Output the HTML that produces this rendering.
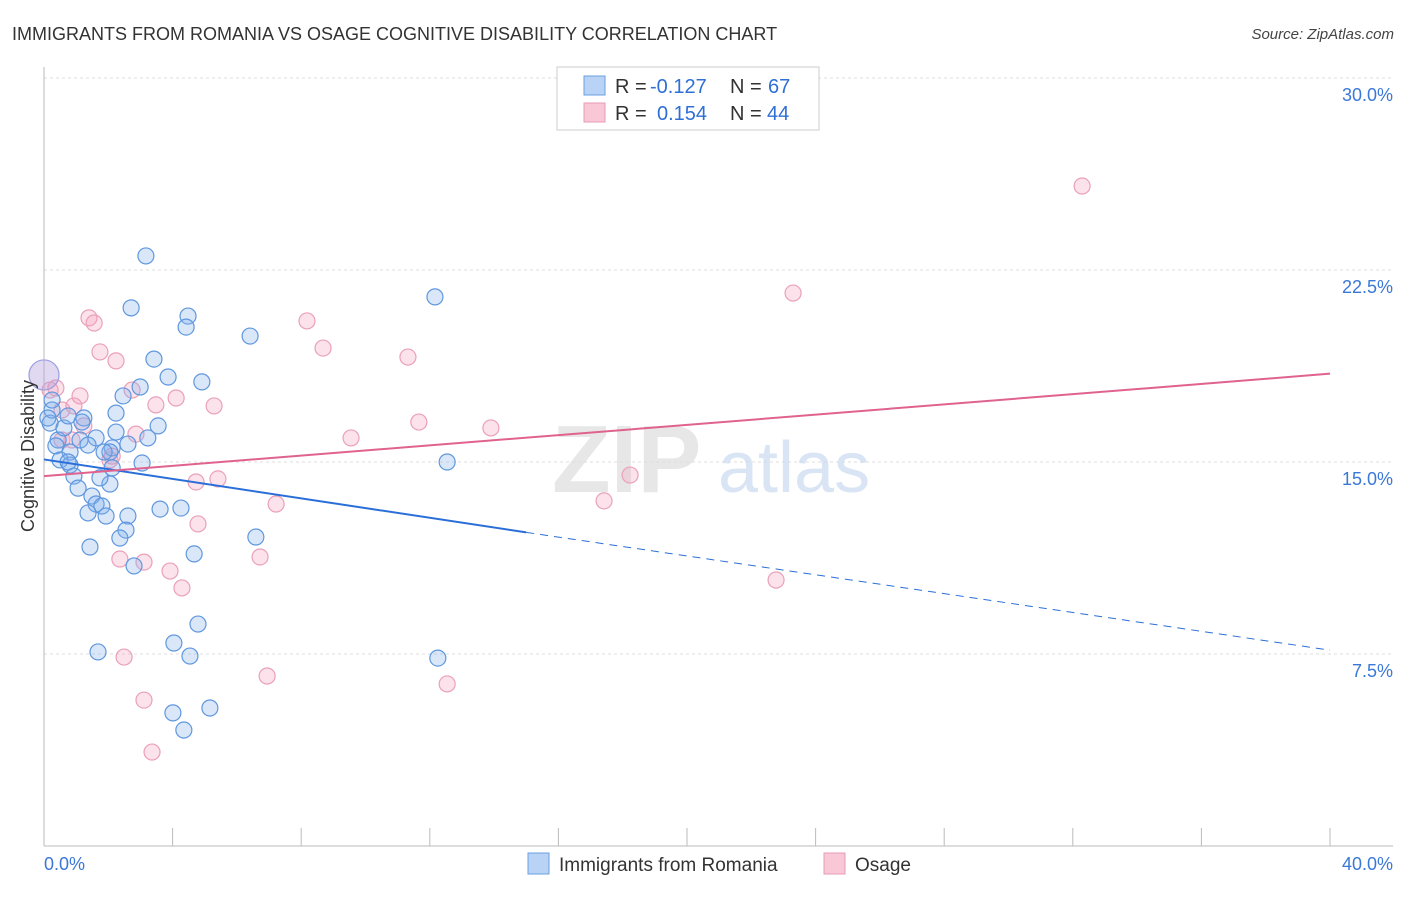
<!DOCTYPE html>
<html><head><meta charset="utf-8">
<style>
body{margin:0;background:#fff;font-family:"Liberation Sans",sans-serif;}
svg text{font-family:"Liberation Sans",sans-serif;}
</style></head>
<body>
<svg id="chart" width="1406" height="892" xmlns="http://www.w3.org/2000/svg">
<text x="12" y="40" font-size="18" fill="#333">IMMIGRANTS FROM ROMANIA VS OSAGE COGNITIVE DISABILITY CORRELATION CHART</text>
<text x="1394" y="39" font-size="15" fill="#444" text-anchor="end" font-style="italic">Source: ZipAtlas.com</text>
<g id="grid"></g>
<g>
<text x="552" y="492" font-size="96" fill="#ddd" font-family="Liberation Serif" font-weight="bold" opacity="0.7">ZIP</text>
<text x="718" y="492" font-size="72" fill="#c9daf0" opacity="0.7">atlas</text>
</g>
<g id="axes"></g>
<g id="points"></g>
<g id="trends"></g>
<g>
<rect x="557" y="67" width="262" height="63" fill="#fff" stroke="#ccc"/>
<rect x="584" y="76" width="21" height="19" fill="#b8d3f5" stroke="#6a9fe0"/>
<rect x="584" y="103" width="21" height="19" fill="#f9c8d7" stroke="#e89ab5"/>
<text x="615" y="93" font-size="20" fill="#333">R =</text>
<text x="650" y="93" font-size="20" fill="#2f6fd6">-0.127</text>
<text x="730" y="93" font-size="20" fill="#333">N =</text>
<text x="768" y="93" font-size="20" fill="#2f6fd6">67</text>
<text x="615" y="120" font-size="20" fill="#333">R =</text>
<text x="657" y="120" font-size="20" fill="#2f6fd6">0.154</text>
<text x="730" y="120" font-size="20" fill="#333">N =</text>
<text x="767" y="120" font-size="20" fill="#2f6fd6">44</text>
</g>
<g>
<rect x="528" y="853" width="21" height="21" fill="#b8d3f5" stroke="#6a9fe0"/>
<text x="559" y="871" font-size="19" fill="#333">Immigrants from Romania</text>
<rect x="824" y="853" width="21" height="21" fill="#f9c8d7" stroke="#e89ab5"/>
<text x="855" y="871" font-size="19" fill="#333">Osage</text>
</g>
<text transform="translate(34,456) rotate(-90)" font-size="18" fill="#333" text-anchor="middle">Cognitive Disability</text>
</svg>
<script>
const blueX=[3.17,2.71,4.48,4.42,6.41,12.16,3.42,3.86,4.91,2.99,2.46,2.24,1.24,3.55,3.23,2.61,2.12,2.24,1.62,1.12,1.37,0.44,0.37,0.81,0.50,0.81,0.75,0.93,1.06,1.49,1.62,1.80,1.37,1.93,2.05,1.74,3.05,2.61,2.55,2.36,3.61,4.26,1.43,4.67,6.59,2.80,12.54,4.79,4.04,1.68,4.54,12.25,5.16,4.01,4.35,0.19,0.25,0.12,0.25,0.62,2.05,2.12,1.87,1.18,0.75];
const blueY=[23.05,21.02,20.70,20.27,19.92,21.45,19.02,18.32,18.13,17.93,17.58,16.91,16.72,16.41,15.94,15.70,15.55,16.17,15.94,15.86,15.66,15.86,15.63,15.39,15.08,14.88,15.0,14.45,13.98,13.67,13.36,13.28,13.01,12.89,14.14,14.38,14.96,12.89,12.34,12.03,13.16,13.20,11.68,11.41,12.07,10.94,15.0,8.67,7.93,7.58,7.42,7.34,5.39,5.20,4.53,16.52,17.03,16.72,17.42,16.33,15.39,14.77,15.39,16.56,16.8];
const pinkX=[32.29,23.30,8.18,1.40,1.56,8.68,1.74,11.32,2.24,0.37,1.12,2.74,4.11,3.48,5.29,0.56,0.93,11.66,9.55,13.90,2.86,1.24,0.87,2.05,2.12,18.23,4.73,5.41,7.22,17.42,4.79,2.36,3.11,6.72,3.92,4.29,22.77,2.49,6.94,12.54,3.11,3.36,0.19,0.56];
const pinkY=[25.78,21.60,20.51,20.63,20.43,19.45,19.30,19.10,18.95,17.89,17.58,17.81,17.50,17.23,17.19,17.03,17.19,16.56,15.94,16.33,16.09,16.41,15.86,15.08,15.23,14.49,14.22,14.34,13.36,13.48,12.58,11.21,11.09,11.29,10.74,10.08,10.39,7.38,6.64,6.33,5.70,3.67,17.81,15.86];
const bigX=[0.0], bigY=[18.4];
const yTicks=[7.5,15.0,22.5,30.0];
const yTickLabels=["7.5%","15.0%","22.5%","30.0%"];
const xTicks=[0,4,8,12,16,20,24,28,32,36,40];
const blueTrend=[[0,15.1],[15,12.25],[40,7.65]];
const pinkTrend=[[0,14.45],[40,18.45]];
const NS="http://www.w3.org/2000/svg";
const sx=v=>44+v*32.15, sy=v=>846-v*25.6;
function mk(tag,attrs,parent){const e=document.createElementNS(NS,tag);for(const k in attrs)e.setAttribute(k,attrs[k]);parent.appendChild(e);return e;}
const gridG=document.getElementById('grid'),axesG=document.getElementById('axes'),ptsG=document.getElementById('points'),trG=document.getElementById('trends');
yTicks.forEach((t,i)=>{
 const l=mk('line',{x1:44,x2:1393,y1:sy(t),y2:sy(t),stroke:'#ddd','stroke-dasharray':'3,3'},gridG);
 
 
 const tx=mk('text',{x:1393,y:sy(t)+23,'font-size':18,fill:'#3a78d8','text-anchor':'end'},axesG);
 tx.textContent=yTickLabels[i];
 
 
});
const topGrid=mk('line',{x1:44,x2:1393,y1:78,y2:78,stroke:'#ddd','stroke-dasharray':'3,3'},gridG);


mk('line',{x1:44,x2:44,y1:67,y2:846,stroke:'#bbb'},axesG);
mk('line',{x1:44,x2:1393,y1:846,y2:846,stroke:'#bbb'},axesG);
xTicks.forEach(t=>{
 const l=mk('line',{x1:sx(t),x2:sx(t),y1:828,y2:846,stroke:'#bbb'},axesG);
 
 
});
const xl0=mk('text',{x:44,y:870,'font-size':18,fill:'#3a78d8'},axesG);xl0.textContent="0.0%";


const xl1=mk('text',{x:1393,y:870,'font-size':18,fill:'#3a78d8','text-anchor':'end'},axesG);xl1.textContent="40.0%";


pinkX.forEach((x,i)=>{
 const c=mk('circle',{cx:sx(x),cy:sy(pinkY[i]),r:8,fill:'rgba(244,160,190,0.3)',stroke:'#eaa0ba','stroke-width':1.2},ptsG);
 
 
});
blueX.forEach((x,i)=>{
 const c=mk('circle',{cx:sx(x),cy:sy(blueY[i]),r:8,fill:'rgba(130,175,235,0.3)',stroke:'#5f97de','stroke-width':1.2},ptsG);
 
 
});
bigX.forEach((x,i)=>{
 const c=mk('circle',{cx:sx(x),cy:sy(bigY[i]),r:15,fill:'rgba(180,160,220,0.4)',stroke:'#9a9fe0','stroke-width':1.2},ptsG);
 
 
});
const b1=mk('line',{x1:sx(blueTrend[0][0]),y1:sy(blueTrend[0][1]),x2:sx(blueTrend[1][0]),y2:sy(blueTrend[1][1]),stroke:'#2a6fd8','stroke-width':2},trG);


const b2=mk('line',{x1:sx(blueTrend[1][0]),y1:sy(blueTrend[1][1]),x2:sx(blueTrend[2][0]),y2:sy(blueTrend[2][1]),stroke:'#2a6fd8','stroke-width':1,'stroke-dasharray':'8,6'},trG);


const p1=mk('line',{x1:sx(pinkTrend[0][0]),y1:sy(pinkTrend[0][1]),x2:sx(pinkTrend[1][0]),y2:sy(pinkTrend[1][1]),stroke:'#e0628f','stroke-width':2},trG);


</script>
</body></html>
